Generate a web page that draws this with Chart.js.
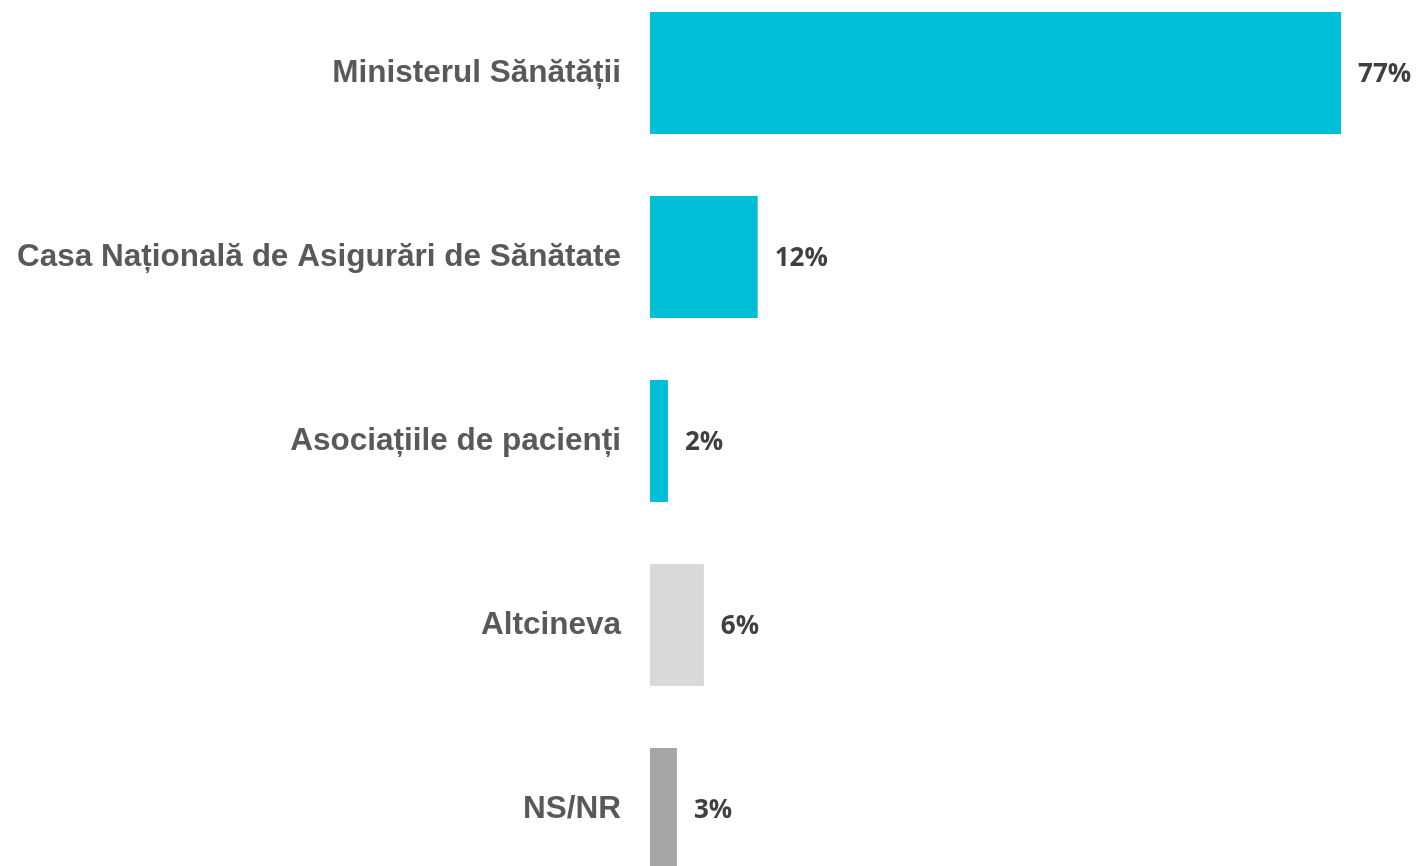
<!DOCTYPE html>
<html>
<head>
<meta charset="utf-8">
<script src="https://cdn.jsdelivr.net/npm/chart.js@4/dist/chart.umd.min.js"></script>
<style>
html,body{margin:0;padding:0;background:#fff;overflow:hidden;width:1416px;height:866px;}
#wrap{position:absolute;left:0;top:-19px;width:1416px;height:920px;}
</style>
</head>
<body>
<div id="wrap"><canvas id="c" width="1416" height="920"></canvas></div>
<script>
const categories = ["Ministerul Sănătății","Casa Națională de Asigurări de Sănătate","Asociațiile de pacienți","Altcineva","NS/NR"];
const values = [77, 12, 2, 6, 3];
const barColors = ["#00BED6","#00BED6","#00BED6","#D9D9D9","#A6A6A6"];
const valueLabels = values.map(v => v + "%");

const valuePlugin = {
  id: 'valueLabels',
  afterDatasetsDraw(chart) {
    const ctx = chart.ctx;
    const meta = chart.getDatasetMeta(0);
    ctx.save();
    ctx.font = "bold 26px 'Open Sans'";
    ctx.fillStyle = "#404040";
    ctx.textAlign = "left";
    ctx.textBaseline = "middle";
    meta.data.forEach((bar, i) => {
      ctx.fillText(valueLabels[i], bar.x + 17, bar.y + 2);
    });
    ctx.restore();
  }
};

new Chart(document.getElementById('c'), {
  type: 'bar',
  data: {
    labels: categories,
    datasets: [{
      data: values,
      backgroundColor: barColors,
      borderWidth: 0,
      categoryPercentage: 1,
      barPercentage: 0.663
    }]
  },
  options: {
    indexAxis: 'y',
    responsive: false,
    animation: false,
    devicePixelRatio: 1,
    layout: { padding: { left: 0, right: 48, top: 0, bottom: 0 } },
    plugins: { legend: { display: false }, tooltip: { enabled: false } },
    scales: {
      x: { display: false, min: 0, max: 80 },
      y: {
        grid: { display: false, drawTicks: false },
        border: { display: false },
        ticks: {
          padding: 29,
          color: "#595959",
          font: { family: "'Liberation Sans', Arial", size: 31.5, weight: 'bold' }
        },
        afterFit(scale) {
          scale.width = 650;
          scale.paddingTop = 0;
          scale.paddingBottom = 0;
        }
      }
    }
  },
  plugins: [valuePlugin]
});
</script>
</body>
</html>
